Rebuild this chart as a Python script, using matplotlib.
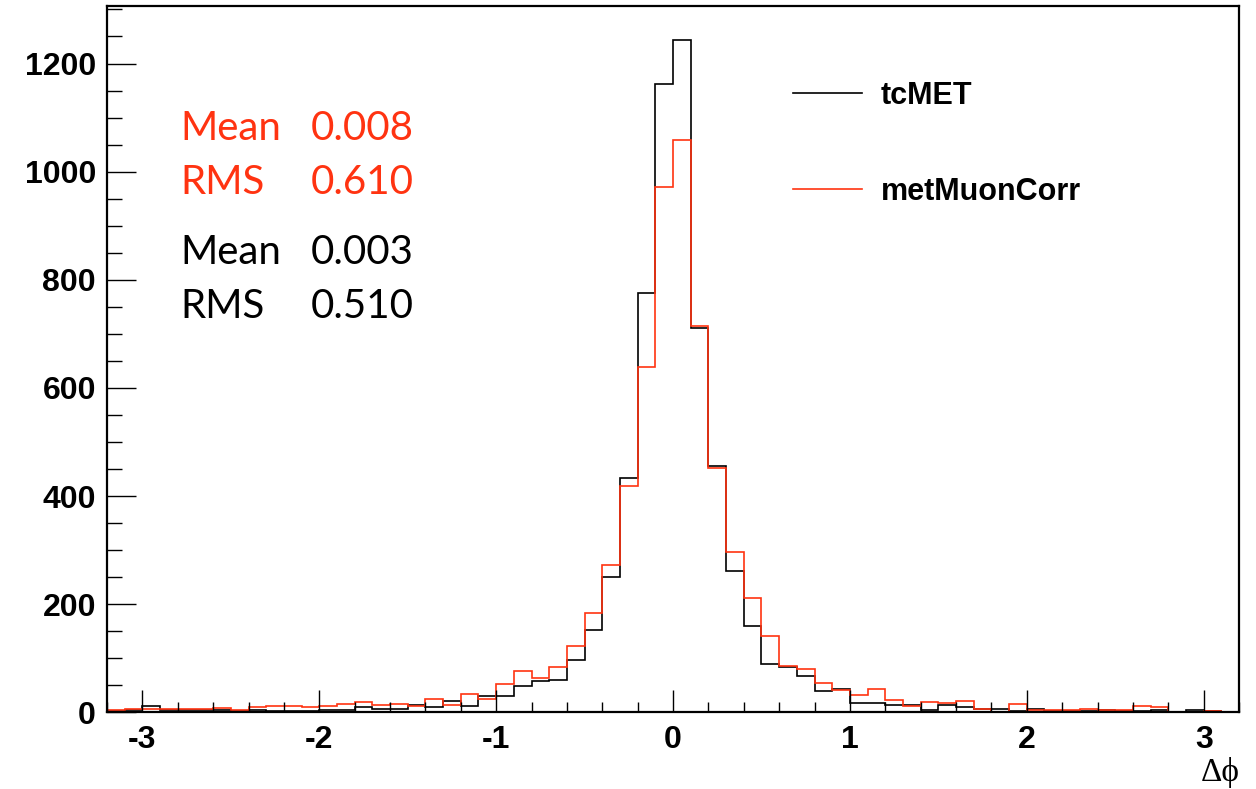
import numpy as np
import matplotlib
matplotlib.use("Agg")
import matplotlib.pyplot as plt
from matplotlib.ticker import MultipleLocator

plt.rcParams["axes.unicode_minus"] = False

# ---------------------------------------------------------------- data --- #
bin_edges = np.round(np.arange(-3.2, 3.2001, 0.1), 2)

tcmet = [2, 5, 12, 4, 4, 5, 5, 2, 5, 2, 3, 2, 4, 4, 10, 6,
         6, 14, 10, 20, 12, 31, 31, 48, 57, 60, 97, 152, 250, 434, 776, 1162,
         1243, 711, 455, 262, 159, 90, 83, 67, 39, 44, 18, 17, 14, 14, 4, 13,
         9, 6, 7, 2, 6, 2, 3, 2, 4, 2, 2, 4, 1, 4, 2, 0]

met_muon_corr = [4, 7, 6, 6, 6, 7, 8, 4, 10, 11, 11, 9, 11, 15, 19, 13,
                 15, 11, 25, 14, 34, 25, 52, 77, 63, 83, 123, 184, 273, 419, 638, 971,
                 1059, 714, 452, 297, 212, 142, 86, 81, 54, 41, 32, 43, 22, 11, 19, 18,
                 20, 7, 1, 16, 4, 4, 4, 6, 5, 4, 12, 9, 1, 1, 2, 0]

series_labels = ["tcMET", "metMuonCorr"]
stats_red = [("Mean", "0.008"), ("RMS", "0.610")]
stats_black = [("Mean", "0.003"), ("RMS", "0.510")]

RED = "#ff3311"

# --------------------------------------------------------------- figure --- #
fig = plt.figure(figsize=(12.56, 7.89), dpi=100)
ax = fig.add_axes([0.0852, 0.0972, 0.9013, 0.8956])

h_black = ax.stairs(tcmet, bin_edges, color="black", lw=1.2, label=series_labels[0])
h_red = ax.stairs(met_muon_corr, bin_edges, color=RED, lw=1.2, label=series_labels[1])

ax.set_xlim(-3.2, 3.2)
ax.set_ylim(0, 1307)

ax.xaxis.set_major_locator(MultipleLocator(1))
ax.xaxis.set_minor_locator(MultipleLocator(0.2))
ax.yaxis.set_major_locator(MultipleLocator(200))
ax.yaxis.set_minor_locator(MultipleLocator(50))

ax.tick_params(axis="both", which="both", direction="in", top=False, right=False,
               color="black", width=1.0)
ax.tick_params(axis="x", which="major", length=16, pad=9)
ax.tick_params(axis="x", which="minor", length=7)
ax.tick_params(axis="y", which="major", length=21, pad=8)
ax.tick_params(axis="y", which="minor", length=11)

for lab in ax.get_xticklabels() + ax.get_yticklabels():
    lab.set_fontfamily("Liberation Sans")
    lab.set_fontweight("bold")
    lab.set_fontsize(23)

for sp in ax.spines.values():
    sp.set_linewidth(1.6)

# ---------------------------------------------------------------- legend --- #
leg = ax.legend(handles=[h_black, h_red], loc="upper left",
                bbox_to_anchor=(793 / 1256, 1 - 81 / 789),
                bbox_transform=fig.transFigure, frameon=False,
                prop={"family": "Liberation Sans", "weight": "bold", "size": 22},
                handlelength=2.26, handletextpad=0.6, labelspacing=2.15,
                borderpad=0, borderaxespad=0)

# ------------------------------------------------------------ stats text --- #
stat_rows = [(stats_red, RED), (stats_black, "black")]
y_rows = [128, 183, 253, 307]
k = 0
for stats, col in stat_rows:
    for name, val in stats:
        y = 1 - y_rows[k] / 789
        fig.text(180 / 1256, y, name, color=col, fontsize=29, family="Lato",
                 va="center", ha="left")
        fig.text(311 / 1256, y, val, color=col, fontsize=29, family="Lato",
                 va="center", ha="left")
        k += 1

fig.text(1240 / 1256, 1 - 772 / 789, "\u0394\u03d5", fontsize=24,
         family=["Liberation Serif", "DejaVu Serif"], ha="right", va="center")

fig.savefig("out.png", dpi=100)
